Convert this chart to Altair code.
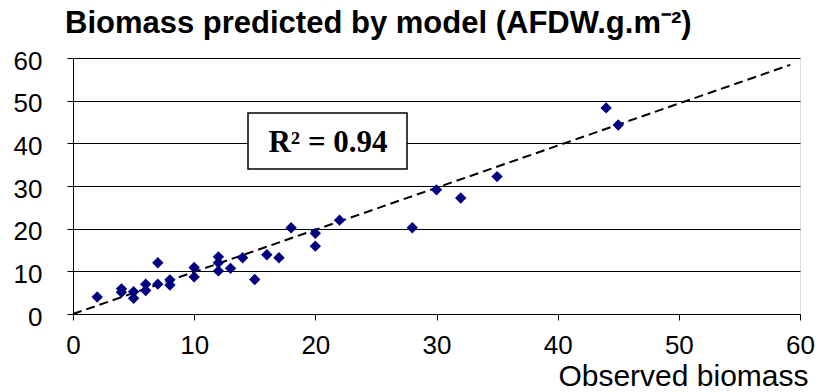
import altair as alt
import pandas as pd

# Observed vs predicted biomass (AFDW g m-2)
observed = [2, 4, 4, 5, 5, 6, 6, 7, 7, 8, 8, 10, 10, 12, 12, 12, 13, 14, 15, 16,
            17, 18, 20, 20, 22, 28, 30, 32, 35, 44, 45]
predicted = [4, 5.9, 5.1, 5.2, 3.7, 7, 5.5, 12, 7, 8, 6.8, 10.9, 8.7, 13.4, 12, 10.1,
             10.7, 13.2, 8.1, 13.9, 13.2, 20.2, 18.9, 15.9, 22, 20.2, 29.1, 27.2, 32.2,
             48.3, 44.3]
trend_x = [0, 59.2]
trend_y = [0, 58.4]
axis_ticks = [0, 10, 20, 30, 40, 50, 60]
r2_label = ["R² = 0.94"]

pts = pd.DataFrame({"obs": observed, "pred": predicted})
trend = pd.DataFrame({"obs": trend_x, "pred": trend_y})

W, H = 727, 256
FONT = "Liberation Sans"

xs = alt.Scale(domain=[0, 60], nice=False, zero=True)
ys = alt.Scale(domain=[0, 60], nice=False, zero=True)

x_axis = alt.Axis(values=axis_ticks, grid=False, domainColor="black", tickColor="black",
                  tickSize=6, labelFont=FONT, labelFontSize=26, labelColor="black",
                  labelPadding=12, labelFlush=False, title="Observed biomass",
                  titleFont=FONT, titleFontSize=30, titleFontWeight="normal",
                  titleColor="black", titleAnchor="end", titleAlign="right",
                  titleX=735, titleY=71, titleBaseline="alphabetic")
y_axis = alt.Axis(values=axis_ticks, grid=True, gridColor="black", gridWidth=1,
                  gridOpacity=1, domainColor="black", tickColor="black", tickSize=6,
                  labelFont=FONT, labelFontSize=26, labelColor="black", labelPadding=25,
                  labelFlush=False, labelOffset=3, title=None)

points = alt.Chart(pts).mark_point(shape="diamond", filled=True, color="#000080",
                                   size=130, opacity=1).encode(
    x=alt.X("obs:Q", scale=xs, axis=x_axis),
    y=alt.Y("pred:Q", scale=ys, axis=y_axis),
)

line = alt.Chart(trend).mark_line(color="black", strokeWidth=2, strokeDash=[9, 5]).encode(
    x=alt.X("obs:Q", scale=xs),
    y=alt.Y("pred:Q", scale=ys),
)

box = alt.Chart(pd.DataFrame({"t": r2_label})).mark_rect(
    fill="white", stroke="black", strokeWidth=1.5).encode(
    x=alt.value(175), x2=alt.value(334), y=alt.value(55), y2=alt.value(111))

label = alt.Chart(pd.DataFrame({"t": r2_label})).mark_text(
    font="Liberation Serif", fontWeight="bold", fontSize=31, color="black",
    align="center", baseline="middle").encode(
    x=alt.value(255), y=alt.value(85), text="t:N")

chart = alt.layer(line, points, box, label).properties(
    width=W, height=H,
    autosize=alt.AutoSizeParams(type="none"),
    padding={"left": 73, "top": 58, "right": 21, "bottom": 78},
    title=alt.Title("Biomass predicted by model (AFDW.g.m⁻²)", anchor="start",
                    font=FONT, fontSize=31, fontWeight="bold", color="black",
                    dx=-8, offset=8, frame="group"),
).configure_view(stroke=None).configure(background="white")

chart.save("out.html", embed_options={"renderer": "svg", "actions": False})
